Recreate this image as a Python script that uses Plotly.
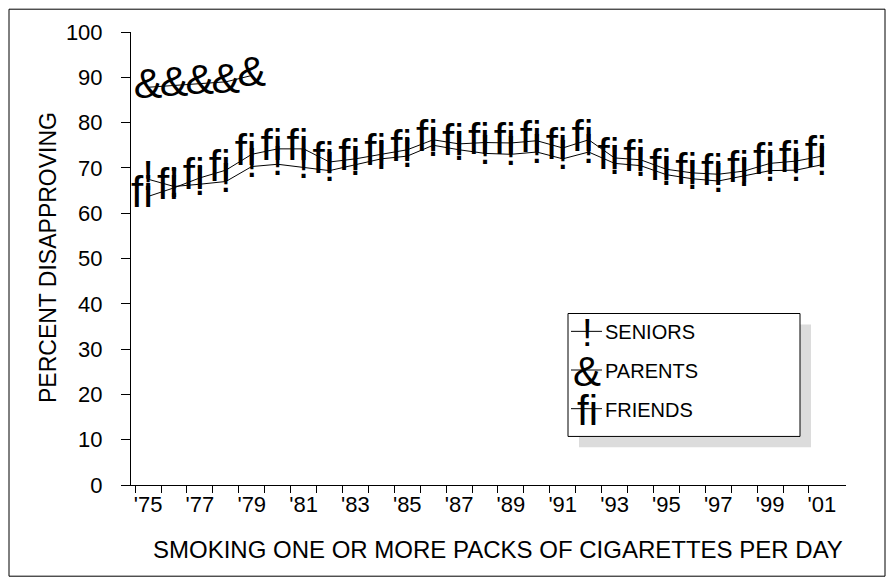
import plotly.graph_objects as go

years = list(range(1975, 2002))
seniors = [67.5, 65.9, 66.4, 67.0, 70.3, 70.8, 70.1, 69.4, 70.7, 72.0, 72.6, 75.0, 74.0,
           73.2, 73.0, 73.5, 72.0, 73.5, 71.0, 70.5, 68.5, 67.6, 67.1, 68.3, 69.4, 69.5, 70.7]
friends = [63.7, 65.6, 67.8, 69.5, 73.0, 74.2, 74.2, 71.3, 72.0, 73.0, 74.0, 76.2, 75.3,
           75.6, 75.5, 76.0, 74.4, 76.2, 72.2, 71.8, 69.7, 68.9, 68.6, 69.3, 71.0, 71.5, 72.6]
parent_years = [1975, 1976, 1977, 1978, 1979]
parents = [87.8, 88.2, 88.7, 89.0, 90.4]

tick_years = list(range(1975, 2002, 2))
tick_labels = ["'" + str(y)[2:] for y in tick_years]

series_names = ["SENIORS", "PARENTS", "FRIENDS"]
series_glyphs = ["!", "&", "fi"]

FONT = "Liberation Sans, Arial, sans-serif"
NB = "\u00a0"

# the page body has an 8px margin; figure sized to fill the rest of the window
OFF = 8
WIN_W, WIN_H = 894, 579
W, H = WIN_W - OFF, WIN_H - OFF
# plot area in window pixels
L, R, T, B = 131, 846, 28, 485

def px(x):
    return (x - L) / (R - L)

def py(y):
    return (B - y) / (B - T)

fig = go.Figure()

glyph_style = {
    "SENIORS": ("!", 42),
    "PARENTS": ("&", 43),
    "FRIENDS": ("fi" + NB, 44),
}

for name, xs, ys in [("SENIORS", years, seniors),
                     ("PARENTS", parent_years, parents),
                     ("FRIENDS", years, friends)]:
    g, size = glyph_style[name]
    fig.add_trace(go.Scatter(
        x=xs, y=ys, mode="lines+text", name=name,
        text=[g] * len(xs), textposition="middle center",
        textfont=dict(family=FONT, size=size, color="black"),
        line=dict(color="black", width=1), showlegend=False,
        cliponaxis=False,
    ))

shapes = []
annotations = []

# outer border
shapes.append(dict(type="rect", xref="paper", yref="paper",
                   x0=px(9), x1=px(885), y0=py(577), y1=py(5),
                   line=dict(color="black", width=1), fillcolor="rgba(0,0,0,0)", layer="below"))

# legend
lx0, lx1, ly0, ly1 = 568, 800, 312, 436
shapes.append(dict(type="rect", xref="paper", yref="paper",
                   x0=px(lx0 + 11), x1=px(lx1 + 11), y0=py(ly1 + 11), y1=py(ly0 + 11),
                   line=dict(width=0), fillcolor="#dcdcdc", layer="below"))
shapes.append(dict(type="rect", xref="paper", yref="paper",
                   x0=px(lx0), x1=px(lx1), y0=py(ly1), y1=py(ly0),
                   line=dict(color="black", width=1), fillcolor="white", layer="above"))
row_y = [330, 369, 408]
leg_sizes = {"SENIORS": 38, "PARENTS": 42, "FRIENDS": 42}
for name, glyph, ry in zip(series_names, series_glyphs, row_y):
    shapes.append(dict(type="line", xref="paper", yref="paper",
                       x0=px(571), x1=px(602), y0=py(ry), y1=py(ry),
                       line=dict(color="black", width=1)))
    annotations.append(dict(xref="paper", yref="paper", x=px(587), y=py(ry + 2),
                            text=glyph, showarrow=False, xanchor="center", yanchor="middle",
                            font=dict(family=FONT, size=leg_sizes[name], color="black")))
    annotations.append(dict(xref="paper", yref="paper", x=px(603), y=py(ry + 1),
                            text=name, showarrow=False, xanchor="left", yanchor="middle",
                            font=dict(family=FONT, size=20, color="black")))

# axis titles
annotations.append(dict(xref="paper", yref="paper", x=px(498), y=py(550),
                        text="SMOKING ONE OR MORE PACKS OF CIGARETTES PER DAY", showarrow=False,
                        xanchor="center", yanchor="middle",
                        font=dict(family=FONT, size=24, color="black")))
annotations.append(dict(xref="paper", yref="paper", x=px(48), y=py(256),
                        text="PERCENT DISAPPROVING", showarrow=False, textangle=-90,
                        xanchor="center", yanchor="middle",
                        font=dict(family=FONT, size=23, color="black")))

fig.update_layout(
    width=W, height=H,
    margin=dict(l=L - OFF, r=WIN_W - R, t=T - OFF, b=WIN_H - B),
    paper_bgcolor="white", plot_bgcolor="white",
    font=dict(family=FONT, color="black"),
    shapes=shapes, annotations=annotations,
    xaxis=dict(
        range=[1974.34, 2001.93], tickmode="array", tickvals=tick_years, ticktext=tick_labels,
        ticks="", showgrid=False, zeroline=False, showline=True, linecolor="black", linewidth=1,
        tickfont=dict(size=22, family=FONT), ticklabelstandoff=0,
        minor=dict(tickvals=[y + 0.5 for y in years[:-1]] + [1974.5], ticks="outside",
                   ticklen=7, tickcolor="black", showgrid=False),
    ),
    yaxis=dict(
        range=[0, 100], dtick=10, ticks="outside", ticklen=9, tickcolor="black",
        showgrid=False, zeroline=False, showline=True, linecolor="black", linewidth=1,
        tickfont=dict(size=22, family=FONT), ticklabelstandoff=14,
    ),
)

fig.write_html("out.html")
